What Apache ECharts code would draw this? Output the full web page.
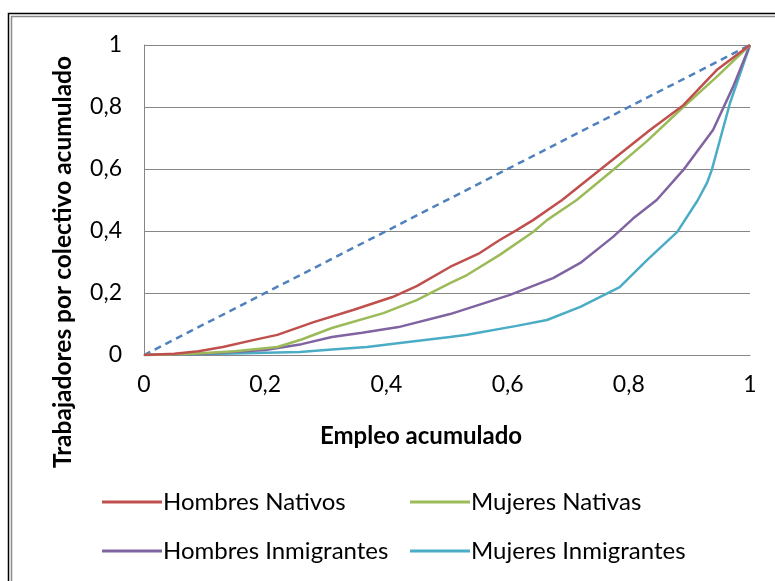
<!DOCTYPE html>
<html>
<head>
<meta charset="utf-8">
<script src="https://cdn.jsdelivr.net/npm/echarts@6/dist/echarts.min.js"></script>
<style>
  html, body { margin: 0; padding: 0; background: #fff; }
  #chart { width: 775px; height: 581px; }
</style>
</head>
<body>
<div id="chart"></div>
<script>
// Curvas de concentración: [empleo acumulado, trabajadores acumulados]
const hombresNativos = [
  [0, 0], [0.05, 0.004], [0.09, 0.012], [0.13, 0.026], [0.18, 0.048], [0.22, 0.065],
  [0.28, 0.106], [0.345, 0.145], [0.41, 0.187], [0.45, 0.222], [0.505, 0.284],
  [0.554, 0.329], [0.587, 0.371], [0.615, 0.403], [0.642, 0.435], [0.69, 0.5],
  [0.752, 0.597], [0.835, 0.726], [0.89, 0.806], [0.945, 0.919], [1, 1]
];
const mujeresNativas = [
  [0, 0], [0.08, 0.004], [0.15, 0.012], [0.22, 0.026], [0.26, 0.05], [0.31, 0.087],
  [0.395, 0.135], [0.45, 0.177], [0.505, 0.232], [0.533, 0.258], [0.587, 0.323],
  [0.642, 0.397], [0.665, 0.435], [0.714, 0.5], [0.774, 0.597], [0.83, 0.69],
  [0.89, 0.8], [0.945, 0.897], [1, 1]
];
const hombresInmigrantes = [
  [0, 0], [0.09, 0.003], [0.2, 0.016], [0.26, 0.035], [0.31, 0.058], [0.36, 0.072],
  [0.42, 0.09], [0.505, 0.132], [0.604, 0.194], [0.675, 0.248], [0.72, 0.297],
  [0.774, 0.381], [0.807, 0.44], [0.846, 0.5], [0.89, 0.597], [0.939, 0.726],
  [0.972, 0.865], [1, 1]
];
const mujeresInmigrantes = [
  [0, 0], [0.147, 0.005], [0.257, 0.01], [0.31, 0.018], [0.368, 0.026], [0.422, 0.039],
  [0.505, 0.058], [0.533, 0.065], [0.615, 0.094], [0.665, 0.113], [0.72, 0.155],
  [0.785, 0.219], [0.83, 0.306], [0.88, 0.397], [0.914, 0.5], [0.929, 0.555],
  [0.937, 0.597], [0.967, 0.813], [1, 1]
];
const igualdad = [[0, 0], [1, 1]];

const serieNombres = ['Hombres Nativos', 'Mujeres Nativas', 'Hombres Inmigrantes', 'Mujeres Inmigrantes'];
const serieDatos = [hombresNativos, mujeresNativas, hombresInmigrantes, mujeresInmigrantes];
const serieColores = ['#C0504D', '#9BBB59', '#8064A2', '#4BACC6'];

const FONT = 'Lato, "Open Sans", sans-serif';
const fmt = v => String(+v.toFixed(1)).replace('.', ',');

const chart = echarts.init(document.getElementById('chart'), null, { renderer: 'canvas' });

const lineas = serieNombres.map((n, i) => ({
  name: n,
  type: 'line',
  data: serieDatos[i],
  showSymbol: false,
  symbol: 'none',
  lineStyle: { color: serieColores[i], width: 2.5 },
  itemStyle: { color: serieColores[i] },
  z: 3 + (3 - i)
}));

const legendBase = {
  orient: 'vertical',
  icon: 'rect',
  itemWidth: 60,
  itemHeight: 3,
  itemGap: 25,
  textStyle: { fontFamily: FONT, fontSize: 24, color: '#000', padding: [0, 0, 0, -4] },
  top: 485
};

chart.setOption({
  animation: false,
  backgroundColor: '#fff',
  grid: { left: 144, right: 25, top: 45, bottom: 226, containLabel: false, outerBoundsMode: 'none' },
  xAxis: {
    type: 'value', min: 0, max: 1, interval: 0.2,
    name: 'Empleo acumulado', nameLocation: 'middle', nameGap: 69,
    nameTextStyle: { fontFamily: FONT, fontSize: 24, fontWeight: 'bold', color: '#000', padding: [0, 52, 0, 0] },
    axisLine: { show: true, lineStyle: { color: '#868686', width: 1 } },
    axisTick: { show: false },
    splitLine: { show: false },
    axisLabel: { fontFamily: FONT, fontSize: 23, color: '#000', margin: 18, formatter: fmt }
  },
  yAxis: {
    type: 'value', min: 0, max: 1, interval: 0.2,
    name: 'Trabajadores por colectivo acumulado', nameLocation: 'middle', nameGap: 68,
    nameTextStyle: { fontFamily: FONT, fontSize: 24.5, fontWeight: 'bold', color: '#000', padding: [0, 124, 0, 0] },
    axisLine: { show: true, lineStyle: { color: '#868686', width: 1 } },
    axisTick: { show: false },
    splitLine: { show: true, lineStyle: { color: '#868686', width: 1 } },
    axisLabel: { fontFamily: FONT, fontSize: 23, color: '#000', margin: 22, formatter: fmt }
  },
  legend: [
    Object.assign({}, legendBase, { left: 97, data: [serieNombres[0], serieNombres[2]] }),
    Object.assign({}, legendBase, { left: 405, data: [serieNombres[1], serieNombres[3]] })
  ],
  graphic: [
    { type: 'rect', shape: { x: 8.5, y: 13.5, width: 800, height: 600 }, style: { fill: 'none', stroke: '#000', lineWidth: 1.5 }, silent: true },
    { type: 'rect', shape: { x: 11.5, y: 16.5, width: 800, height: 600 }, style: { fill: 'none', stroke: '#8a8a8a', lineWidth: 1.5 }, silent: true }
  ],
  series: [
    {
      name: 'Igualdad',
      type: 'line',
      data: igualdad,
      showSymbol: false,
      symbol: 'none',
      lineStyle: { color: '#4F81BD', width: 2.5, type: [7, 5] },
      z: 2
    }
  ].concat(lineas)
});
</script>
</body>
</html>
